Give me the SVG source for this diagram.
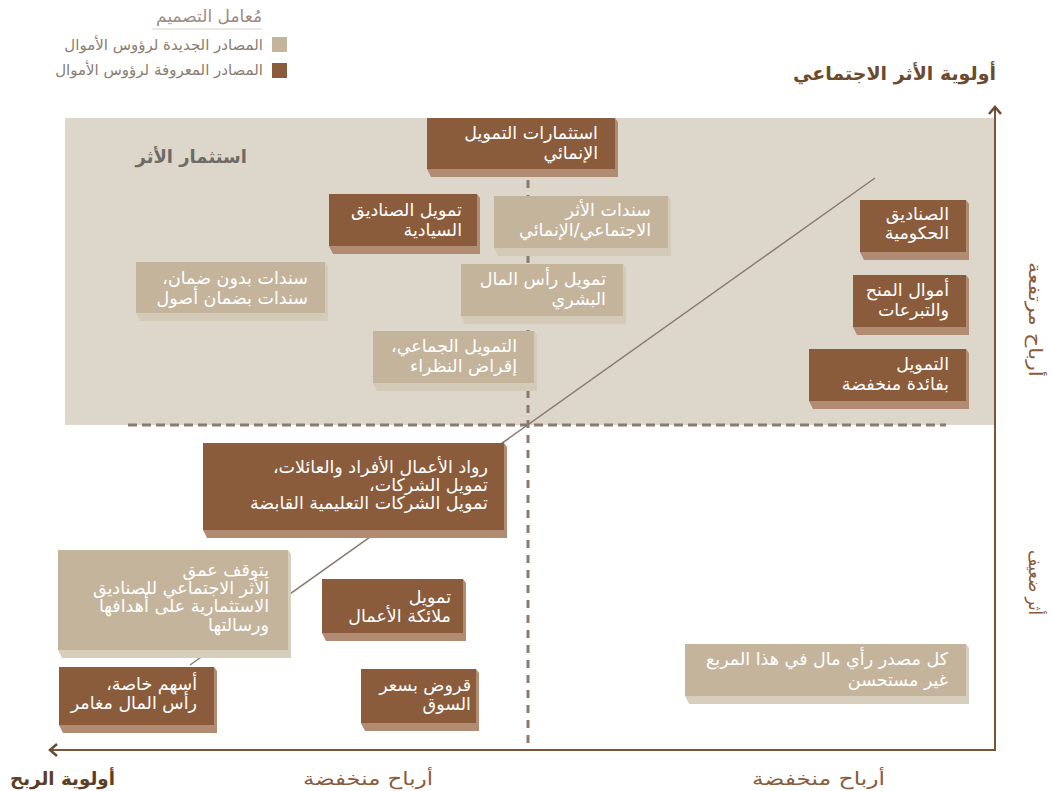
<svg xmlns="http://www.w3.org/2000/svg" width="1051" height="791" viewBox="0 0 1051 791">
<style>
text{font-family:"DejaVu Sans","Noto Sans",sans-serif;direction:rtl;text-anchor:start}
.bt{fill:#fff;font-size:17.5px}
.dk{fill:#8a5c3b}
.dks{fill:#b18c72}
.lt{fill:#c4b49c}
.lts{fill:#d3cab8}
.ltw{fill:#d7cebd}
.leg{fill:#8a7d70;font-size:15px}
.ax{fill:#8a5c3b;font-size:18px}
</style>
<rect width="1051" height="791" fill="#fff"/>
<g id="legend">
<text x="262" y="22" fill="#9a8c7e" font-size="17">مُعامل التصميم</text>
<line x1="152" y1="29" x2="262" y2="29" stroke="#d8d0c6" stroke-width="1"/>
<rect x="272" y="37" width="15" height="15" class="lt"/>
<text class="leg" x="263" y="50">المصادر الجديدة لرؤوس الأموال</text>
<rect x="272" y="63" width="15" height="15" class="dk"/>
<text class="leg" x="263" y="75">المصادر المعروفة لرؤوس الأموال</text>
</g>
<rect id="quadrant" x="65" y="118" width="930" height="307" fill="#ddd7cb"/>
<g id="connectors" fill="none">
<line x1="128" y1="425" x2="946" y2="425" stroke="#8c7b6e" stroke-width="3" stroke-dasharray="9 5"/>
<line x1="528" y1="180" x2="528" y2="746" stroke="#8c7b6e" stroke-width="3" stroke-dasharray="8 7"/>
<line x1="875" y1="178" x2="190" y2="665" stroke="#8c7a6b" stroke-width="1.5"/>
<path d="M995,107 V750 H51" stroke="#7a5535" stroke-width="2"/>
<path d="M989,114 L995,107 L1001,114" stroke="#6b4a2e" stroke-width="2.5"/>
<path d="M57,744 L50,750 L57,756" stroke="#6b4a2e" stroke-width="2.5"/>
</g>
<g id="axis-labels">
<text x="996" y="80" fill="#6b4a2e" font-size="19" font-weight="bold">أولوية الأثر الاجتماعي</text>
<text x="115" y="785" fill="#5e3d24" font-size="18" font-weight="bold" textLength="105" lengthAdjust="spacingAndGlyphs">أولوية الربح</text>
<text class="ax" x="433" y="785" textLength="130" lengthAdjust="spacingAndGlyphs">أرباح منخفضة</text>
<text class="ax" x="885" y="785" textLength="133" lengthAdjust="spacingAndGlyphs">أرباح منخفضة</text>
<text class="ax" transform="translate(1030,320) rotate(90)" x="57" y="1" textLength="115" lengthAdjust="spacingAndGlyphs">أرباح مرتفعة</text>
<text class="ax" transform="translate(1030,583) rotate(90)" x="32" y="1" textLength="65" lengthAdjust="spacingAndGlyphs">أثر ضعيف</text>
<text x="247" y="163" fill="#6e6a66" font-size="18" font-weight="bold">استثمار الأثر</text>
</g>
<g id="n1"><polygon class="dks" points="427,169 431,177 618,177 618,122 615,118"/><rect class="dk" x="427" y="118" width="188" height="51"/><text class="bt" x="598" y="139">استثمارات التمويل</text><text class="bt" x="598" y="159">الإنمائي</text></g>
<g id="n2"><polygon class="dks" points="329,246 333,254 480,254 480,198 477,194"/><rect class="dk" x="329" y="194" width="148" height="52"/><text class="bt" x="462" y="216">تمويل الصناديق</text><text class="bt" x="462" y="236">السيادية</text></g>
<g id="n3"><polygon class="lts" points="494,248 498,256 671,256 671,200 668,196"/><rect class="lt" x="494" y="196" width="174" height="52"/><text class="bt" x="651" y="216">سندات الأثر</text><text class="bt" x="651" y="236">الاجتماعي/الإنمائي</text></g>
<g id="n4"><polygon class="lts" points="461,316 465,324 626,324 626,268 623,264"/><rect class="lt" x="461" y="264" width="162" height="52"/><text class="bt" x="606" y="285">تمويل رأس المال</text><text class="bt" x="606" y="305">البشري</text></g>
<g id="n5"><polygon class="lts" points="373,383 377,391 537,391 537,335 534,331"/><rect class="lt" x="373" y="331" width="161" height="52"/><text class="bt" x="517" y="352">التمويل الجماعي،</text><text class="bt" x="517" y="372">إقراض النظراء</text></g>
<g id="n6"><polygon class="lts" points="136,313 140,321 328,321 328,266 325,262"/><rect class="lt" x="136" y="262" width="189" height="51"/><text class="bt" x="308" y="284">سندات بدون ضمان،</text><text class="bt" x="308" y="304">سندات بضمان أصول</text></g>
<g id="n7"><polygon class="dks" points="860,252 864,260 969,260 969,204 966,200"/><rect class="dk" x="860" y="200" width="106" height="52"/><text class="bt" x="949" y="220">الصناديق</text><text class="bt" x="949" y="239">الحكومية</text></g>
<g id="n8"><polygon class="dks" points="853,327 857,335 969,335 969,279 966,275"/><rect class="dk" x="853" y="275" width="113" height="52"/><text class="bt" x="949" y="296">أموال المنح</text><text class="bt" x="949" y="316">والتبرعات</text></g>
<g id="n9"><polygon class="dks" points="809,401 813,409 969,409 969,353 966,349"/><rect class="dk" x="809" y="349" width="157" height="52"/><text class="bt" x="949" y="370">التمويل</text><text class="bt" x="949" y="390">بفائدة منخفضة</text></g>
<g id="n10"><polygon class="dks" points="203,530 207,538 507,538 507,447 504,443"/><rect class="dk" x="203" y="443" width="301" height="87"/><text class="bt" x="488" y="473">رواد الأعمال الأفراد والعائلات،</text><text class="bt" x="488" y="491">تمويل الشركات،</text><text class="bt" x="488" y="509">تمويل الشركات التعليمية القابضة</text></g>
<g id="n11"><polygon class="ltw" points="58,650 62,658 291,658 291,554 288,550"/><rect class="lt" x="58" y="550" width="230" height="100"/><text class="bt" x="269" y="576">يتوقف عمق</text><text class="bt" x="269" y="594">الأثر الاجتماعي للصناديق</text><text class="bt" x="269" y="612">الاستثمارية على أهدافها</text><text class="bt" x="269" y="631">ورسالتها</text></g>
<g id="n12"><polygon class="dks" points="322,633 326,641 466,641 466,583 463,579"/><rect class="dk" x="322" y="579" width="141" height="54"/><text class="bt" x="451" y="603">تمويل</text><text class="bt" x="451" y="622">ملائكة الأعمال</text></g>
<g id="n13"><polygon class="dks" points="59,725 63,733 217,733 217,671 214,667"/><rect class="dk" x="59" y="667" width="155" height="58"/><text class="bt" x="197" y="690">أسهم خاصة،</text><text class="bt" x="197" y="709">رأس المال مغامر</text></g>
<g id="n14"><polygon class="dks" points="361,723 365,731 479,731 479,673 476,669"/><rect class="dk" x="361" y="669" width="115" height="54"/><text class="bt" x="471" y="691">قروض بسعر</text><text class="bt" x="471" y="710">السوق</text></g>
<g id="n15"><polygon class="ltw" points="685,696 689,704 969,704 969,648 966,644"/><rect class="lt" x="685" y="644" width="281" height="52"/><text class="bt" x="948" y="665">كل مصدر رأي مال في هذا المربع</text><text class="bt" x="948" y="686">غير مستحسن</text></g>
</svg>
